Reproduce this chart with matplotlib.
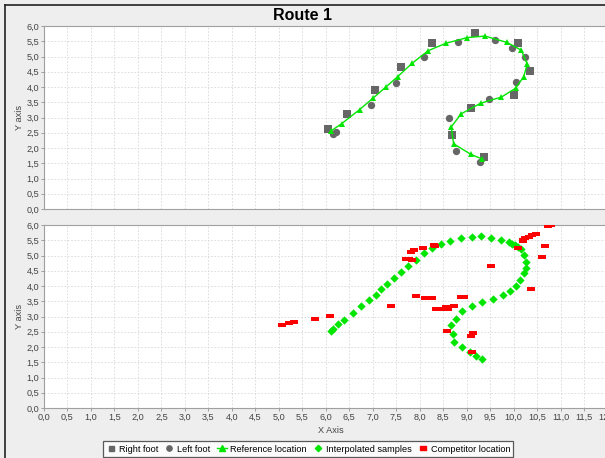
import matplotlib.pyplot as plt
from matplotlib.lines import Line2D
from matplotlib.ticker import MultipleLocator, FuncFormatter
import numpy as np

# footstep positions
right_x = [6.04, 6.45, 7.05, 7.60, 8.27, 9.18, 10.10, 10.34, 10.00, 9.10, 8.68, 9.37]
right_y = [2.63, 3.13, 3.90, 4.66, 5.43, 5.77, 5.43, 4.53, 3.75, 3.32, 2.41, 1.70]

left_x = [6.15, 6.22, 6.96, 7.49, 8.09, 8.82, 9.61, 9.96, 10.24, 10.06, 9.48, 8.63, 8.77, 9.28]
left_y = [2.47, 2.52, 3.40, 4.12, 4.98, 5.47, 5.55, 5.27, 4.97, 4.18, 3.62, 2.98, 1.91, 1.53]

# reference route
ref_x = [6.12, 6.34, 6.72, 7.01, 7.28, 7.53, 7.84, 8.18, 8.55, 9.01, 9.39, 9.86,
         10.16, 10.29, 10.21, 10.04, 9.74, 9.30, 8.88, 8.67, 8.72, 9.09, 9.33]
ref_y = [2.57, 2.80, 3.26, 3.64, 4.00, 4.34, 4.78, 5.19, 5.43, 5.62, 5.67, 5.46,
         5.21, 4.75, 4.33, 3.96, 3.67, 3.47, 3.12, 2.69, 2.14, 1.79, 1.64]

# interpolated samples along the route
interp_x = [6.11, 6.15, 6.27, 6.39, 6.57, 6.74, 6.91, 7.06, 7.18, 7.30, 7.46, 7.61,
            7.75, 7.91, 8.09, 8.27, 8.45, 8.65, 8.87, 9.11, 9.30, 9.52, 9.74, 9.90,
            9.97, 10.03, 10.09, 10.16, 10.21, 10.27, 10.27, 10.21, 10.14, 10.05, 9.93,
            9.78, 9.55, 9.33, 9.11, 8.89, 8.78, 8.67, 8.70, 8.72, 8.89, 9.06, 9.19, 9.32]
interp_y = [2.53, 2.59, 2.74, 2.89, 3.11, 3.33, 3.53, 3.71, 3.90, 4.08, 4.25, 4.45,
            4.67, 4.85, 5.07, 5.24, 5.37, 5.49, 5.56, 5.62, 5.64, 5.59, 5.51, 5.43,
            5.38, 5.34, 5.29, 5.22, 5.02, 4.80, 4.60, 4.42, 4.20, 4.00, 3.85,
            3.71, 3.58, 3.49, 3.33, 3.17, 2.93, 2.72, 2.44, 2.17, 2.00, 1.83, 1.72, 1.62]

# competitor positions
comp_x = [5.06, 5.21, 5.32, 5.77, 6.09, 7.38, 7.93, 8.12, 8.26, 8.34, 8.50, 8.55,
          8.60, 8.72, 8.87, 8.94, 8.59, 9.13, 9.09, 9.11, 7.70, 7.77, 7.82, 7.88,
          7.84, 8.07, 8.30, 8.33, 9.52, 10.10, 10.19, 10.20, 10.25, 10.33, 10.39,
          10.47, 10.67, 10.60, 10.36, 10.74, 10.80]
comp_y = [2.73, 2.78, 2.83, 2.91, 3.01, 3.35, 3.67, 3.62, 3.62, 3.25, 3.25, 3.31,
          3.25, 3.35, 3.64, 3.64, 2.54, 2.47, 2.37, 1.85, 4.89, 4.89, 5.13, 5.18,
          4.85, 5.24, 5.35, 5.30, 4.67, 5.25, 5.47, 5.51, 5.56, 5.62, 5.67,
          5.71, 5.31, 4.94, 3.90, 5.96, 5.99]

GRAY = '#666666'
GREEN = '#00e600'
RED = '#ff0000'
rect = [(-2, -1), (2, -1), (2, 1), (-2, 1), (-2, -1)]

plt.rcParams['font.family'] = ['Liberation Sans', 'DejaVu Sans']
fig = plt.figure(figsize=(6.05, 4.58), dpi=100, facecolor='#eeeeee')

W, H = 605.0, 458.0
left = 44 / W
width = (617 - 44) / W
ax1 = fig.add_axes([left, 1 - 209 / H, width, 183 / H])
ax2 = fig.add_axes([left, 1 - 408 / H, width, 183 / H])

fmt = FuncFormatter(lambda v, p: f'{v:.1f}'.replace('.', ','))

for ax in (ax1, ax2):
    ax.set_facecolor('white')
    ax.set_xlim(0, 12.2)
    ax.set_ylim(0, 6)
    ax.xaxis.set_major_locator(MultipleLocator(0.5))
    ax.yaxis.set_major_locator(MultipleLocator(0.5))
    ax.xaxis.set_major_formatter(fmt)
    ax.yaxis.set_major_formatter(fmt)
    ax.grid(True, color='#d8d8d8', linestyle=(0, (2, 2)), linewidth=0.6)
    ax.set_axisbelow(True)
    for s in ax.spines.values():
        s.set_color('#a0a0a0')
        s.set_linewidth(0.8)
    ax.tick_params(direction='out', length=2, width=0.6, color='#909090',
                   labelsize=6.6, labelcolor='#444444', pad=1.5)
    ax.set_ylabel('Y axis', fontsize=6.6, color='#444444', labelpad=2)

ax1.tick_params(labelbottom=False, length=0, axis='x')

ax1.scatter(right_x, right_y, marker='s', s=26, color=GRAY, linewidths=0, zorder=3)
ax1.scatter(left_x, left_y, marker='o', s=28, color=GRAY, linewidths=0, zorder=3)
ax1.plot(ref_x, ref_y, color=GREEN, linewidth=1.0, marker='^', markersize=5,
         markeredgewidth=0, zorder=4)

ax2.scatter(interp_x, interp_y, marker='D', s=18, color=GREEN, linewidths=0, zorder=3)
ax2.scatter(comp_x, comp_y, marker=rect, s=30, color=RED, linewidths=0, zorder=4)
ax2.set_xlabel('X Axis', fontsize=6.6, color='#444444', labelpad=3)

fig.text(0.5, 1 - 15 / H, 'Route 1', ha='center', va='center',
         fontsize=11.5, fontweight='bold')

# outer frame lines
fig.add_artist(Line2D([5 / W, 5 / W], [0, 1 - 5 / H], color='#222222', linewidth=1.2))
fig.add_artist(Line2D([5 / W, 1], [1 - 5 / H, 1 - 5 / H], color='#222222', linewidth=1.2))

handles = [
    Line2D([], [], linestyle='none', marker='s', markersize=3.6, color=GRAY),
    Line2D([], [], linestyle='none', marker='o', markersize=3.8, color=GRAY),
    Line2D([], [], color=GREEN, marker='^', markersize=4.2, linewidth=1.0),
    Line2D([], [], linestyle='none', marker='D', markersize=3.2, color=GREEN),
    Line2D([], [], linestyle='none', marker=rect, markersize=4.5, color=RED),
]
labels = ['Right foot', 'Left foot', 'Reference location', 'Interpolated samples',
          'Competitor location']
leg = fig.legend(handles, labels, loc='center', bbox_to_anchor=(308 / W, 1 - 449 / H),
                 ncol=5, fontsize=6.6, frameon=True, fancybox=False, handlelength=1.1,
                 handletextpad=0.3, columnspacing=0.7, borderpad=0.35,
                 edgecolor='#333333', facecolor='white')
leg.get_frame().set_linewidth(0.9)

fig.savefig('out.png', dpi=100, facecolor=fig.get_facecolor())
